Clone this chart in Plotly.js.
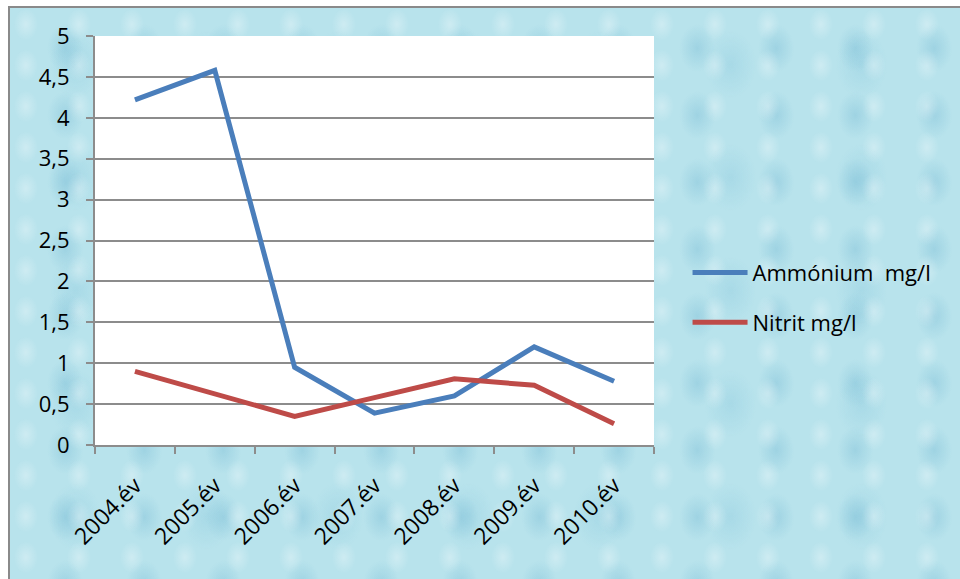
<!DOCTYPE html>
<html>
<head>
<meta charset="utf-8">
<script src="https://cdn.plot.ly/plotly-3.0.1.min.js"></script>
<style>
html,body{margin:0;padding:0;background:#ffffff;width:960px;height:579px;overflow:hidden;}
#bg{position:absolute;left:8px;top:6px;width:960px;height:590px;border:2px solid #8a8a8a;
background:
radial-gradient(ellipse 12px 16px at 30% 40%, rgba(255,255,255,0.30), rgba(255,255,255,0) 100%),
radial-gradient(ellipse 18px 24px at 70% 60%, rgba(100,175,205,0.30), rgba(100,175,205,0) 100%),
radial-gradient(ellipse 26px 34px at 50% 50%, rgba(120,190,215,0.25), rgba(120,190,215,0) 100%),
#b8e3ec;
background-size: 53px 41px, 79px 67px, 131px 113px, auto;}
#chart{position:absolute;left:0;top:0;width:960px;height:579px;}
</style>
</head>
<body>
<div id="bg"></div>
<div id="chart"></div>
<script>
const categories = ["2004.év","2005.év","2006.év","2007.év","2008.év","2009.év","2010.év"];
const ammonium = [4.22, 4.58, 0.95, 0.39, 0.60, 1.20, 0.78];
const nitrit = [0.90, 0.63, 0.35, 0.58, 0.81, 0.73, 0.26];
const seriesNames = ["Ammónium  mg/l", "Nitrit mg/l"];
const yTicks = [0,0.5,1,1.5,2,2.5,3,3.5,4,4.5,5];

function f(s){ return {family: '"Open Sans", sans-serif', size: s, color: "#000000"}; }

const traces = [
  {x: categories, y: ammonium, name: seriesNames[0], type: "scatter", mode: "lines",
   line: {color: "#4a7ebb", width: 5}, legendgroup: "a"},
  {x: categories, y: nitrit, name: seriesNames[1], type: "scatter", mode: "lines",
   line: {color: "#be4b48", width: 5}, legendgroup: "b"}
];

const layout = {
  width: 960, height: 579,
  margin: {l: 95, r: 306, t: 36, b: 134, pad: 0},
  paper_bgcolor: "rgba(0,0,0,0)",
  plot_bgcolor: "#ffffff",
  separators: ", ",
  font: f(22),
  showlegend: true,
  legend: {x: 1.06, y: 0.36, xanchor: "left", yanchor: "middle",
    bgcolor: "rgba(0,0,0,0)", font: f(22), tracegroupgap: 18, itemwidth: 55},
  xaxis: {type: "category", range: [-0.5, 6.5], tickangle: -45, ticks: "outside", tickson: "boundaries",
    ticklen: 7, tickcolor: "#8c8c8c", tickwidth: 2, showline: true, linecolor: "#8c8c8c",
    linewidth: 2, showgrid: false, tickfont: f(23), zeroline: false, ticklabelstandoff: 16},
  yaxis: {range: [0, 5], tickvals: yTicks, ticks: "outside", ticklen: 7,
    tickcolor: "#8c8c8c", tickwidth: 2, showline: true, linecolor: "#8c8c8c", linewidth: 2,
    showgrid: true, gridcolor: "#8c8c8c", gridwidth: 2, zeroline: false,
    tickfont: f(22), ticklabelstandoff: 12},
};

Plotly.newPlot("chart", traces, layout, {displayModeBar: false, staticPlot: true});
</script>
</body>
</html>
